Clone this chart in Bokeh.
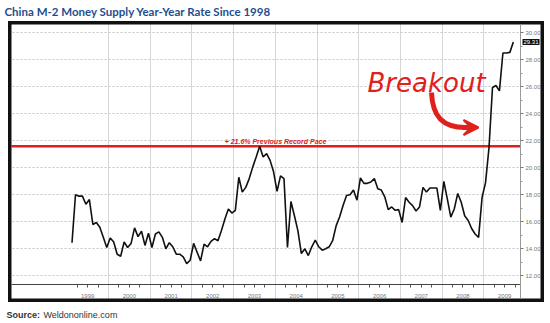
import pandas as pd
from bokeh.plotting import figure
from bokeh.models import (Range1d, FixedTicker, Label, BoxAnnotation, Arrow,
                          VeeHead, PrintfTickFormatter)
from bokeh.embed import file_html
from bokeh.resources import INLINE

# ---------------- data ----------------
start_month = "1999-02"
m2_growth = [
    14.45, 18.0, 17.9, 17.9, 17.3, 17.65, 15.8, 15.95, 15.6, 14.85,
    14.1, 14.8, 14.5, 13.6, 13.45, 14.5, 14.1, 14.4, 15.55, 14.9,
    15.3, 14.25, 15.15, 14.1, 15.1, 15.25, 14.85, 14.0, 14.45, 14.15,
    13.6, 13.6, 13.4, 12.9, 13.15, 14.4, 13.75, 13.1, 14.35, 14.15,
    14.55, 14.75, 14.6, 15.35, 16.2, 16.95, 16.65, 16.85, 19.3, 18.2,
    18.55, 19.2, 20.05, 20.8, 21.6,
    20.8, 21.05, 20.55, 19.7, 18.25, 19.4, 19.2, 14.1, 17.5, 16.45,
    15.35, 13.65, 14.0, 13.5, 14.15, 14.65, 14.15, 13.9, 14.0, 14.15,
    14.6, 15.7, 16.35, 17.2, 17.95, 18.0, 18.35, 17.6, 19.25, 18.85,
    18.85, 18.95, 19.2, 18.45, 18.35, 17.85, 16.9, 17.1, 16.85, 16.9,
    15.95, 17.8, 17.45, 17.2, 16.8, 17.1, 18.55, 18.2, 18.5, 18.5,
    18.5, 16.85, 19.0, 17.7, 16.35, 16.95, 18.1, 17.45, 16.45, 16.1,
    15.5, 15.1, 14.85,
    17.8, 18.9, 21.5, 25.95, 26.1, 25.7, 28.5, 28.5, 28.55, 29.31,
]
record_pace = 21.6
current_value = 29.31
year_labels = ["1999", "2000", "2001", "2002", "2003", "2004",
               "2005", "2006", "2007", "2008", "2009"]
year_starts = [2000, 2001, 2002, 2003, 2004, 2005, 2006, 2007, 2008, 2009]
y_ticks = [12, 14, 16, 18, 20, 22, 24, 26, 28, 30]
title_text = "China M-2 Money Supply Year-Year Rate Since 1998"
source_bold = "Source:"
source_text = "Weldononline.com"
record_text = "+ 21.6% Previous Record Pace"
breakout_text = "Breakout"

periods = pd.period_range(start_month, periods=len(m2_growth), freq="M")
x_dates = [pr.year + (pr.month - 0.5) / 12 for pr in periods]
year_ticks = [int(s) + 0.5 for s in year_labels]
quarter_ticks = [int(s) + q for s in year_labels for q in (0.25, 0.5, 0.75)]

# ---------------- geometry (page pixels) ----------------
W, H = 550, 323
BL, BR, BT, BB = 7.5, 543.5, 20.5, 301.5  # outer edges of the black border
BW = 3.5                                   # border width
PX_2000, PX_PER_YEAR = 108.0, 41.7
PY_12, PX_PER_UNIT = 275.3, 13.5


def px2x(px):
    return 2000 + (px - PX_2000) / PX_PER_YEAR


def py2y(py):
    return 12 + (PY_12 - py) / PX_PER_UNIT


X0, X1 = px2x(0), px2x(W)
Y0, Y1 = py2y(H), py2y(0)
AXIS_X = px2x(520)
AXIS_Y = py2y(284)

RED = "#e0201c"

p = figure(width=W, height=H, x_range=Range1d(X0, X1), y_range=Range1d(Y0, Y1),
           output_backend="svg", toolbar_location=None,
           x_axis_location="below", y_axis_location="right",
           min_border=0)
p.background_fill_color = "white"
p.border_fill_color = "white"
p.outline_line_color = None

# x axis (drawn inside the frame)
p.xaxis.fixed_location = AXIS_Y
p.xaxis.ticker = FixedTicker(ticks=year_ticks, minor_ticks=quarter_ticks)
p.xaxis.major_label_overrides = dict(zip(year_ticks, year_labels))
p.xaxis.major_tick_line_color = None
p.xaxis.major_tick_out = 0
p.xaxis.major_tick_in = 0
p.xaxis.minor_tick_line_color = "#555555"
p.xaxis.minor_tick_out = 3
p.xaxis.minor_tick_in = 0
p.xaxis.axis_line_color = "#444444"
p.xaxis.bounds = (px2x(BL + BW), AXIS_X)
p.xaxis.major_label_text_font_size = "6px"
p.xaxis.major_label_text_color = "#777777"
p.xaxis.major_label_text_font = "Liberation Sans"
p.xaxis.major_label_standoff = 6

# y axis on the right (drawn inside the frame)
p.yaxis.fixed_location = AXIS_X
p.yaxis.ticker = FixedTicker(ticks=y_ticks, minor_ticks=[v + 1 for v in y_ticks[:-1]])
p.yaxis.formatter = PrintfTickFormatter(format="%.2f")
p.yaxis.bounds = (py2y(BB - BW), py2y(BT + BW))
p.yaxis.major_label_text_font_size = "6px"
p.yaxis.major_label_text_color = "#777777"
p.yaxis.major_label_text_font = "Liberation Sans"
p.yaxis.axis_line_color = "#999999"
p.yaxis.major_tick_line_color = "#777777"
p.yaxis.major_tick_out = 3
p.yaxis.major_tick_in = 0
p.yaxis.minor_tick_line_color = "#999999"
p.yaxis.minor_tick_out = 2
p.yaxis.minor_tick_in = 0
p.yaxis.major_label_standoff = 2

# grids
p.xgrid.ticker = FixedTicker(ticks=year_starts)
p.xgrid.grid_line_color = "#d6d6d6"
p.xgrid.grid_line_width = 1
p.ygrid.ticker = FixedTicker(ticks=y_ticks)
p.ygrid.grid_line_color = "#c4c4c4"
p.ygrid.grid_line_dash = "2 2"
p.ygrid.grid_line_width = 1

# white masks keeping the grid inside the bordered plot area
for kw in (dict(left=AXIS_X), dict(right=px2x(BL)),
           dict(bottom=py2y(BT)), dict(top=py2y(BB))):
    p.add_layout(BoxAnnotation(fill_color="white", fill_alpha=1.0,
                               line_color=None, level="underlay", **kw))

# record pace line
p.line(x=[px2x(BL + BW), AXIS_X], y=[record_pace, record_pace],
       line_color=RED, line_width=2.5)

# data line
p.line(x=x_dates, y=m2_growth, line_color="#111111", line_width=1.6)

# thick outer border, drawn as four filled bars
p.quad(left=[px2x(BL), px2x(BR - BW), px2x(BL), px2x(BL)],
       right=[px2x(BL + BW), px2x(BR), px2x(BR), px2x(BR)],
       top=[py2y(BT), py2y(BT), py2y(BT), py2y(BB - BW)],
       bottom=[py2y(BB), py2y(BB), py2y(BT + BW), py2y(BB)],
       fill_color="#111111", line_color=None)

# annotations
p.add_layout(Label(x=px2x(275), y=py2y(141), text=record_text, text_align="center",
                   text_baseline="alphabetic", text_font="Liberation Sans",
                   text_font_style="bold italic", text_font_size="7px", text_color=RED))

p.add_layout(Label(x=px2x(367), y=py2y(82), text=breakout_text, text_align="left",
                   text_baseline="alphabetic", text_font="DejaVu Sans",
                   text_font_style="italic", text_font_size="26px", text_color=RED))

p.bezier(x0=[px2x(431)], y0=[py2y(92)], x1=[px2x(465)], y1=[py2y(127)],
         cx0=[px2x(432)], cy0=[py2y(116)], cx1=[px2x(442)], cy1=[py2y(127)],
         line_color=RED, line_width=5)
p.add_layout(Arrow(end=VeeHead(size=15, fill_color=RED, line_color=RED, line_width=2),
                   x_start=px2x(462), y_start=py2y(127), x_end=px2x(478), y_end=py2y(127),
                   line_color=RED, line_width=5))

p.add_layout(Label(x=AXIS_X, x_offset=2, y=current_value, text=f"{current_value:.2f}",
                   text_align="left", text_baseline="middle", text_font="Liberation Sans",
                   text_font_size="6px", text_color="white",
                   background_fill_color="#111111", padding=1))

# title and source
p.add_layout(Label(x=px2x(4), y=py2y(10.5), text=title_text, text_align="left",
                   text_baseline="middle", text_font="Lato",
                   text_font_style="bold", text_font_size="11.5px", text_color="#1f4e8f"))
p.add_layout(Label(x=px2x(6), y=py2y(314), text=source_bold, text_align="left",
                   text_baseline="middle", text_font="Liberation Sans",
                   text_font_style="bold", text_font_size="9px", text_color="#333333"))
p.add_layout(Label(x=px2x(43), y=py2y(314), text=source_text, text_align="left",
                   text_baseline="middle", text_font="Liberation Sans",
                   text_font_size="9px", text_color="#333333"))

open("out.html", "w").write(file_html(p, INLINE))
